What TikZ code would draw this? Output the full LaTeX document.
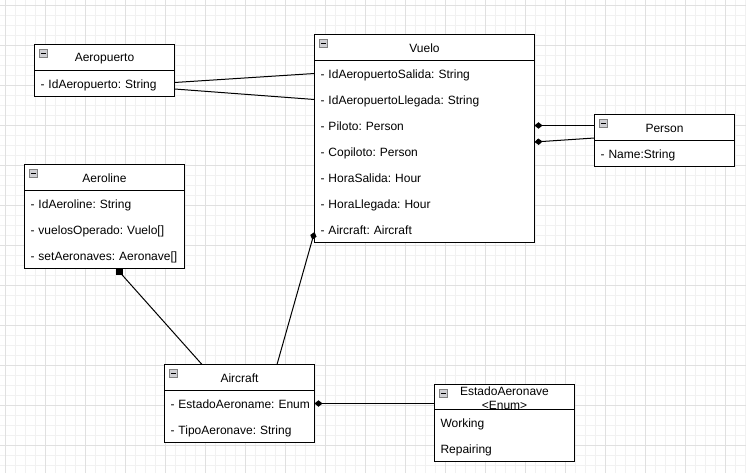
\documentclass[tikz,border=0pt]{standalone}
\usepackage{fontspec}
\setmainfont{Liberation Sans}
\usetikzlibrary{arrows.meta}

\definecolor{gridminor}{RGB}{241,241,241}
\definecolor{gridmajor}{RGB}{224,224,224}
\definecolor{iconfill}{RGB}{208,208,212}
\definecolor{iconedge}{RGB}{128,128,128}

% UML class box: #1 name, #2 left, #3 top, #4 width, #5 header height,
% #6 number of rows, #7 title, #8 comma separated attribute rows
\newcommand\umlclass[8]{%
  \path[boxline, fill=white] (#2,#3) rectangle ++(#4,{#5+26*#6});
  \node[header, minimum width=#4pt, minimum height=#5pt] (#1) at (#2,#3) {};
  \node[htext] (#1-t) at ([yshift=-1pt]#1.center) {#7};
  \node[icon] (#1-i) at ([xshift=9pt,yshift=-9pt]#1.north west) {};
  \draw[line width=1.1pt] ([xshift=-2.6pt]#1-i.center) -- ([xshift=2.6pt]#1-i.center);
  \foreach \r [count=\i] in {#8}
    \node[row, text width={#4pt-12pt}] (#1-r\i) at ([yshift={-26pt*(\i-1)}]#1.south west) {\mbox{\r}};
}

\begin{document}
\frenchspacing
\begin{tikzpicture}[x=1pt, y=-1pt,
  font=\fontsize{12}{14}\selectfont,
  boxline/.style={draw=black, line width=1pt},
  header/.style={draw=black, line width=1pt, anchor=north west, inner sep=0pt, outer sep=0pt},
  htext/.style={inner sep=0pt, align=center, text=black},
  row/.style={anchor=north west, inner xsep=6pt, inner ysep=0pt, minimum height=26pt,
              outer sep=0pt, align=left, text=black, text height=10.5pt, text depth=0.5pt},
  icon/.style={draw=iconedge, fill=iconfill, line width=0.8pt, minimum size=8.5pt,
               inner sep=0pt},
  link/.style={draw=black, line width=1pt},
  comp/.style={{Diamond[length=8pt,width=6.5pt]}-},
  ownsq/.style={fill=black, minimum size=6.5pt, inner sep=0pt, anchor=north}
]
  % page and grid
  \fill[white] (0,0) rectangle (746,473);
  \useasboundingbox (0,0) rectangle (746,473);
  \foreach \g in {5,15,...,745} \draw[gridminor, line width=0.8pt] (\g,0) -- (\g,473);
  \foreach \g in {5,15,...,470} \draw[gridminor, line width=0.8pt] (0,\g) -- (746,\g);
  \foreach \g in {5,45,...,745} \draw[gridmajor, line width=0.8pt] (\g,0) -- (\g,473);
  \foreach \g in {5,45,...,470} \draw[gridmajor, line width=0.8pt] (0,\g) -- (746,\g);

  % classes
  \umlclass{aeropuerto}{34.5}{44.5}{140}{26}{1}{Aeropuerto}{- IdAeropuerto: String}
  \umlclass{vuelo}{314.5}{34.5}{220}{26}{7}{Vuelo}{- IdAeropuertoSalida: String,
    - IdAeropuertoLlegada: String, - Piloto: Person, - Copiloto: Person,
    - HoraSalida: Hour, - HoraLlegada: Hour, - Aircraft: Aircraft}
  \umlclass{person}{594.5}{114.5}{140}{26}{1}{Person}{- Name:String}
  \umlclass{aeroline}{24.5}{164.5}{160}{26}{3}{Aeroline}{- IdAeroline: String,
    - vuelosOperado: Vuelo[], - setAeronaves: Aeronave[]}
  \umlclass{aircraft}{164.5}{364.5}{150}{26}{2}{Aircraft}{- EstadoAeroname: Enum,
    - TipoAeronave: String}
  \umlclass{estado}{434.5}{384.5}{140}{25}{2}{EstadoAeronave\\<Enum>}{Working, Repairing}

  % associations
  \draw[link] ([yshift=1pt]aeropuerto-r1.east) -- (vuelo-r1.west);
  \draw[link] ([yshift=-5.5pt]aeropuerto-r1.east) -- (vuelo-r2.west);

  \draw[link, comp] (vuelo-r3.east) -- (vuelo-r3.east -| person.west);
  \draw[link, comp] ([yshift=-16.5pt]vuelo-r3.east) -- ([yshift=-10.5pt]person.west);

  \draw[link, comp] ([yshift=-2.5pt]vuelo-r7.west) -- ([xshift=37.5pt]aircraft.north);

  \node[ownsq] (owner) at ([xshift=95pt]aeroline-r3.south west) {};
  \draw[link] (owner.center) -- ([xshift=-37.5pt]aircraft.north);

  \draw[link, comp] (aircraft-r1.east) -- (aircraft-r1.east -| estado.west);
\end{tikzpicture}
\end{document}
